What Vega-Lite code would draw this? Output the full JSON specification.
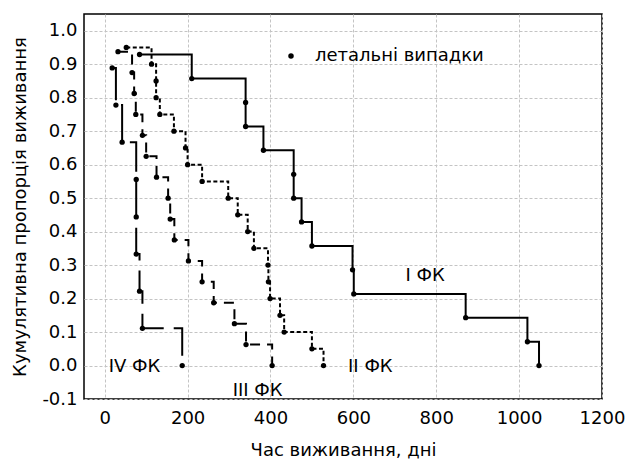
{
  "$schema": "https://vega.github.io/schema/vega-lite/v6.json",
  "width": 518,
  "height": 385,
  "autosize": {"type": "none"},
  "padding": {"left": 84, "top": 14, "right": 24, "bottom": 65},
  "background": "white",
  "config": {
    "font": "DejaVu Sans",
    "view": {"stroke": "black", "strokeWidth": 1.5},
    "axis": {
      "domain": false,
      "ticks": false,
      "tickSize": 0,
      "grid": true,
      "gridColor": "#c4c4c4",
      "gridDash": [3, 2],
      "gridWidth": 1,
      "labelFont": "DejaVu Sans",
      "labelFontSize": 18,
      "labelColor": "black",
      "titleFont": "DejaVu Sans",
      "titleFontSize": 18,
      "titleFontWeight": "normal",
      "titleColor": "black"
    }
  },
  "datasets": {
    "km": [
      {"group": "I", "i": 1, "t": 84, "s": 0.929, "kind": "летальні випадки"},
      {"group": "I", "i": 2, "t": 210, "s": 0.857, "kind": "летальні випадки"},
      {"group": "I", "i": 3, "t": 340, "s": 0.786, "kind": "летальні випадки"},
      {"group": "I", "i": 4, "t": 340, "s": 0.714, "kind": "летальні випадки"},
      {"group": "I", "i": 5, "t": 383, "s": 0.643, "kind": "летальні випадки"},
      {"group": "I", "i": 6, "t": 456, "s": 0.571, "kind": "летальні випадки"},
      {"group": "I", "i": 7, "t": 456, "s": 0.5, "kind": "летальні випадки"},
      {"group": "I", "i": 8, "t": 475, "s": 0.429, "kind": "летальні випадки"},
      {"group": "I", "i": 9, "t": 500, "s": 0.357, "kind": "летальні випадки"},
      {"group": "I", "i": 10, "t": 598, "s": 0.286, "kind": "летальні випадки"},
      {"group": "I", "i": 11, "t": 601, "s": 0.214, "kind": "летальні випадки"},
      {"group": "I", "i": 12, "t": 871, "s": 0.143, "kind": "летальні випадки"},
      {"group": "I", "i": 13, "t": 1020, "s": 0.071, "kind": "летальні випадки"},
      {"group": "I", "i": 14, "t": 1048, "s": 0.0, "kind": "летальні випадки"},

      {"group": "II", "i": 1, "t": 52, "s": 0.95, "kind": "летальні випадки"},
      {"group": "II", "i": 2, "t": 113, "s": 0.9, "kind": "летальні випадки"},
      {"group": "II", "i": 3, "t": 124, "s": 0.85, "kind": "летальні випадки"},
      {"group": "II", "i": 4, "t": 124, "s": 0.8, "kind": "летальні випадки"},
      {"group": "II", "i": 5, "t": 133, "s": 0.75, "kind": "летальні випадки"},
      {"group": "II", "i": 6, "t": 167, "s": 0.7, "kind": "летальні випадки"},
      {"group": "II", "i": 7, "t": 195, "s": 0.65, "kind": "летальні випадки"},
      {"group": "II", "i": 8, "t": 200, "s": 0.6, "kind": "летальні випадки"},
      {"group": "II", "i": 9, "t": 235, "s": 0.55, "kind": "летальні випадки"},
      {"group": "II", "i": 10, "t": 298, "s": 0.5, "kind": "летальні випадки"},
      {"group": "II", "i": 11, "t": 321, "s": 0.45, "kind": "летальні випадки"},
      {"group": "II", "i": 12, "t": 345, "s": 0.4, "kind": "летальні випадки"},
      {"group": "II", "i": 13, "t": 360, "s": 0.35, "kind": "летальні випадки"},
      {"group": "II", "i": 14, "t": 394, "s": 0.3, "kind": "летальні випадки"},
      {"group": "II", "i": 15, "t": 395, "s": 0.25, "kind": "летальні випадки"},
      {"group": "II", "i": 16, "t": 399, "s": 0.2, "kind": "летальні випадки"},
      {"group": "II", "i": 17, "t": 423, "s": 0.15, "kind": "летальні випадки"},
      {"group": "II", "i": 18, "t": 433, "s": 0.1, "kind": "летальні випадки"},
      {"group": "II", "i": 19, "t": 500, "s": 0.05, "kind": "летальні випадки"},
      {"group": "II", "i": 20, "t": 528, "s": 0.0, "kind": "летальні випадки"},

      {"group": "III", "i": 1, "t": 32, "s": 0.9375, "kind": "летальні випадки"},
      {"group": "III", "i": 2, "t": 66, "s": 0.875, "kind": "летальні випадки"},
      {"group": "III", "i": 3, "t": 71, "s": 0.8125, "kind": "летальні випадки"},
      {"group": "III", "i": 4, "t": 75, "s": 0.75, "kind": "летальні випадки"},
      {"group": "III", "i": 5, "t": 91, "s": 0.6875, "kind": "летальні випадки"},
      {"group": "III", "i": 6, "t": 100, "s": 0.625, "kind": "летальні випадки"},
      {"group": "III", "i": 7, "t": 125, "s": 0.5625, "kind": "летальні випадки"},
      {"group": "III", "i": 8, "t": 153, "s": 0.5, "kind": "летальні випадки"},
      {"group": "III", "i": 9, "t": 158, "s": 0.4375, "kind": "летальні випадки"},
      {"group": "III", "i": 10, "t": 168, "s": 0.375, "kind": "летальні випадки"},
      {"group": "III", "i": 11, "t": 202, "s": 0.3125, "kind": "летальні випадки"},
      {"group": "III", "i": 12, "t": 235, "s": 0.25, "kind": "летальні випадки"},
      {"group": "III", "i": 13, "t": 263, "s": 0.1875, "kind": "летальні випадки"},
      {"group": "III", "i": 14, "t": 313, "s": 0.125, "kind": "летальні випадки"},
      {"group": "III", "i": 15, "t": 341, "s": 0.0625, "kind": "летальні випадки"},
      {"group": "III", "i": 16, "t": 404, "s": 0.0, "kind": "летальні випадки"},

      {"group": "IV", "i": 1, "t": 18, "s": 0.889, "kind": "летальні випадки"},
      {"group": "IV", "i": 2, "t": 27, "s": 0.778, "kind": "летальні випадки"},
      {"group": "IV", "i": 3, "t": 42, "s": 0.667, "kind": "летальні випадки"},
      {"group": "IV", "i": 4, "t": 76, "s": 0.556, "kind": "летальні випадки"},
      {"group": "IV", "i": 5, "t": 76, "s": 0.444, "kind": "летальні випадки"},
      {"group": "IV", "i": 6, "t": 76, "s": 0.333, "kind": "летальні випадки"},
      {"group": "IV", "i": 7, "t": 84, "s": 0.222, "kind": "летальні випадки"},
      {"group": "IV", "i": 8, "t": 91, "s": 0.111, "kind": "летальні випадки"},
      {"group": "IV", "i": 9, "t": 187, "s": 0.0, "kind": "летальні випадки"}
    ],
    "labels": [
      {"label": "I ФК", "t": 773, "s": 0.266},
      {"label": "II ФК", "t": 641, "s": -0.003},
      {"label": "III ФК", "t": 369, "s": -0.075},
      {"label": "IV ФК", "t": 72, "s": -0.003}
    ]
  },
  "encoding": {
    "x": {
      "field": "t",
      "type": "quantitative",
      "scale": {"domain": [-50, 1200], "nice": false, "zero": false},
      "axis": {
        "values": [0, 200, 400, 600, 800, 1000, 1200],
        "format": "d",
        "title": "Час виживання, дні",
        "labelPadding": 10,
        "titlePadding": 14,
        "labelFlush": false,
        "labelOverlap": false
      }
    },
    "y": {
      "field": "s",
      "type": "quantitative",
      "scale": {"domain": [-0.1, 1.05], "nice": false, "zero": false},
      "axis": {
        "values": [-0.1, 0, 0.1, 0.2, 0.3, 0.4, 0.5, 0.6, 0.7, 0.8, 0.9, 1.0],
        "labelExpr": "datum.value < 0 ? '-' + format(-datum.value, '.1f') : format(datum.value, '.1f')",
        "title": "Кумулятивна пропорція виживання",
        "labelPadding": 7,
        "titlePadding": 12,
        "labelFlush": false,
        "labelOverlap": false
      }
    }
  },
  "layer": [
    {
      "data": {"name": "km"},
      "mark": {"type": "line", "interpolate": "step-after", "color": "black", "strokeWidth": 2},
      "encoding": {
        "detail": {"field": "group", "type": "nominal"},
        "order": {"field": "i", "type": "quantitative"},
        "strokeDash": {
          "field": "group",
          "type": "nominal",
          "scale": {"domain": ["I", "II", "III", "IV"], "range": [[1, 0], [4, 2.5], [10, 7], [36, 10]]},
          "legend": null
        }
      }
    },
    {
      "data": {"name": "km"},
      "mark": {"type": "point", "filled": true, "color": "black", "size": 28, "opacity": 1},
      "encoding": {
        "shape": {
          "field": "kind",
          "type": "nominal",
          "scale": {"range": ["circle"]},
          "legend": {
            "orient": "none",
            "legendX": 198,
            "legendY": 33,
            "title": null,
            "padding": 0,
            "labelFontSize": 18,
            "labelFont": "DejaVu Sans",
            "labelColor": "black",
            "labelOffset": 15,
            "labelLimit": 400,
            "symbolSize": 30,
            "symbolFillColor": "black",
            "symbolStrokeColor": "black"
          }
        }
      }
    },
    {
      "data": {"name": "labels"},
      "mark": {"type": "text", "font": "DejaVu Sans", "fontSize": 18, "color": "black", "align": "center", "baseline": "middle"},
      "encoding": {
        "text": {"field": "label", "type": "nominal"}
      }
    }
  ]
}
